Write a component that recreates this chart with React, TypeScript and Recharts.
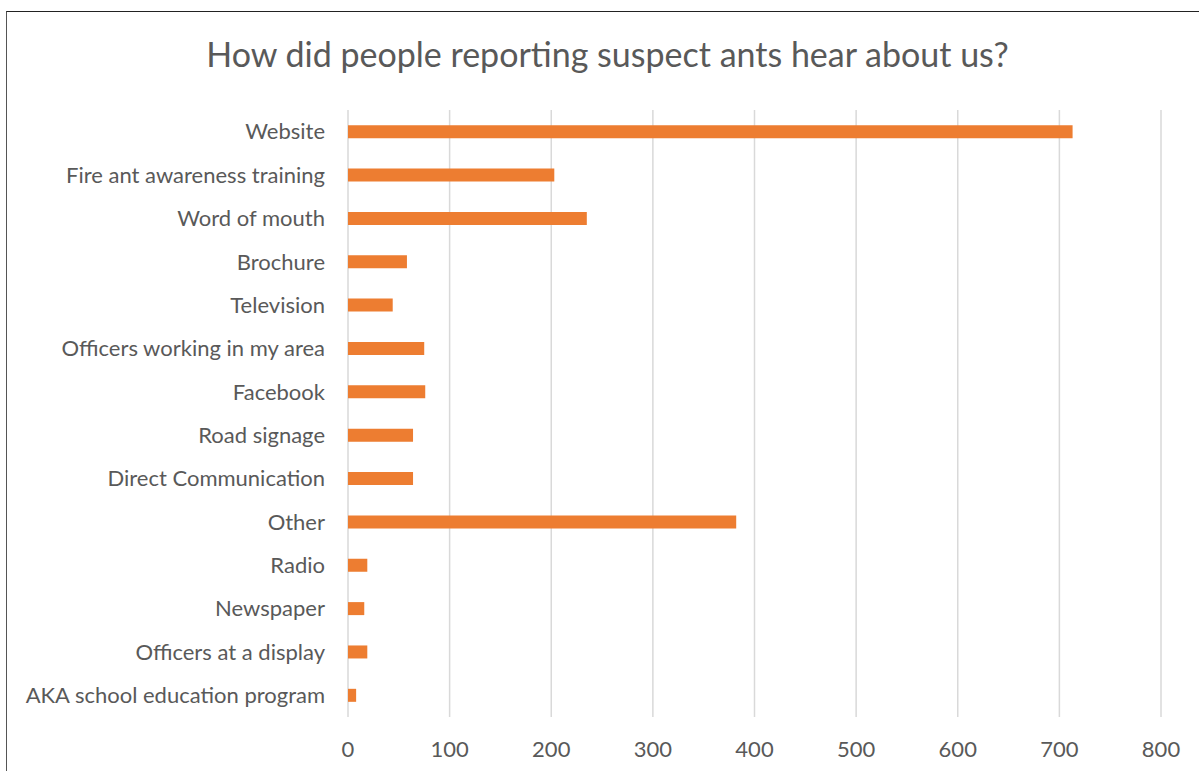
import { BarChart, Bar, XAxis, YAxis, CartesianGrid } from "recharts";

// categories top to bottom, as shown in the chart
const sources = [
  "Website",
  "Fire ant awareness training",
  "Word of mouth",
  "Brochure",
  "Television",
  "Officers working in my area",
  "Facebook",
  "Road signage",
  "Direct Communication",
  "Other",
  "Radio",
  "Newspaper",
  "Officers at a display",
  "AKA school education program",
];

const reports = [713, 203, 235, 58, 44, 75, 76, 64, 64, 382, 19, 16, 19, 8];

const xTicks = [0, 100, 200, 300, 400, 500, 600, 700, 800];

const data = sources.map((name, i) => ({ name, count: reports[i] }));

const FONT = "Lato, 'Open Sans', sans-serif";
const TEXT = "#595959";

export default function App() {
  return (
    <div
      style={{
        position: "absolute",
        left: 0,
        top: 0,
        width: 1199,
        height: 771,
        overflow: "hidden",
        background: "#fff",
        fontFamily: FONT,
      }}
    >
      {/* chart frame */}
      <div
        style={{
          position: "absolute",
          left: 6,
          top: 11,
          width: 1300,
          height: 900,
          borderTop: "1px solid #222",
          borderLeft: "1.5px solid #555",
        }}
      />
      <div
        style={{
          position: "absolute",
          left: 0,
          top: 32,
          width: 1215,
          textAlign: "center",
          fontSize: 34,
          color: TEXT,
          lineHeight: "44px",
        }}
      >
        How did people reporting suspect ants hear about us?
      </div>
      <div style={{ position: "absolute", left: 0, top: 0 }}>
        <BarChart
          width={1199}
          height={771}
          data={data}
          layout="vertical"
          margin={{ top: 110, right: 38, bottom: 14, left: 0 }}
          barCategoryGap="65%"
        >
          <CartesianGrid horizontal={false} stroke="#d9d9d9" strokeWidth={1.5} />
          <XAxis
            type="number"
            domain={[0, 800]}
            ticks={xTicks}
            axisLine={false}
            tickLine={false}
            height={40}
            tickMargin={18}
            tick={{ fill: TEXT, fontSize: 22, fontFamily: FONT }}
          />
          <YAxis
            type="category"
            dataKey="name"
            width={348}
            interval={0}
            axisLine={false}
            tickLine={false}
            tickMargin={17}
            tick={{ fill: TEXT, fontSize: 22, fontFamily: FONT }}
          />
          <Bar dataKey="count" fill="#ED7D31" isAnimationActive={false} />
        </BarChart>
      </div>
    </div>
  );
}
